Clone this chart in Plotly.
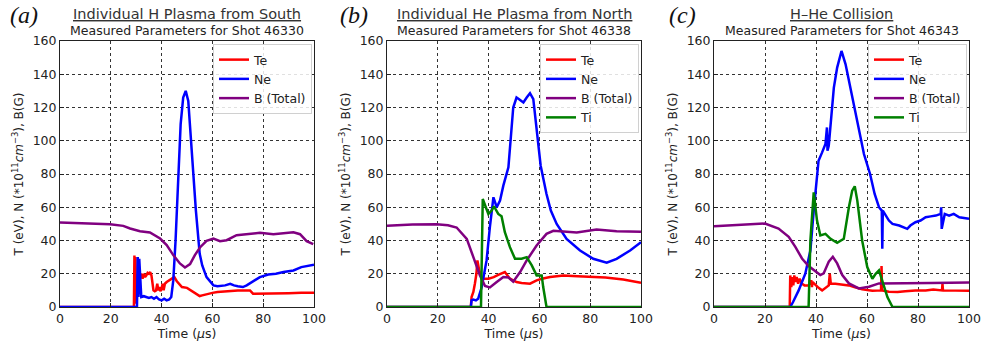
import plotly.graph_objects as go

# ---------------- Panel (a): Individual H plasma, shot 46330 ----------------
a_te_t = [0, 29.1, 29.3, 29.5, 29.7, 29.9, 30.2, 30.6, 31, 31.5, 32, 32.5, 33, 33.5, 34, 34.5, 35, 35.5,
          36, 36.4, 36.8, 37.3, 37.8, 38.3, 38.7, 39.1, 39.5, 40, 40.4, 40.8, 41.3, 42, 43, 44, 45,
          46, 47, 48, 50, 52.5, 54, 55, 56, 57.7, 60, 62, 65, 68, 70, 72, 74.8, 76, 78, 80, 85, 90,
          95, 100]
a_te_v = [0, 0, 31, 2, 30, 5, 20, 18, 21, 19, 20, 17, 20, 18, 19, 20.5, 20, 21,
          19, 12, 10, 9.5, 10, 14, 10, 12, 9.5, 11, 14, 10, 14, 15, 16, 17, 18,
          15.5, 13.5, 12, 11.5, 9, 8, 6.6, 7, 7.8, 8.5, 9, 9.5, 10, 10, 10, 10, 8, 8, 8, 8.2, 8.3,
          8.5, 8.6]
a_ne_t = [0, 30.3, 30.6, 30.9, 31.2, 32, 33, 34, 35, 36, 37, 38, 39, 40, 41, 42, 43, 43.8, 44.6,
          45.5, 46.5, 47.5, 48.5, 49.5, 50.5, 51.5, 52.5, 53.5, 55, 56, 57.7, 60.4, 62, 65, 67, 68.5,
          70, 72, 73.5, 75, 78.7, 82, 85, 88, 91.9, 95, 100]
a_ne_v = [0, 0, 30, 6, 29, 6, 6.5, 6, 5.5, 6, 5, 6, 4.5, 4, 5, 4, 4.5, 6, 16,
          40, 80, 110, 126, 130, 124, 102, 82, 58, 32, 25, 18, 13, 12.5, 13, 14, 13,
          12.5, 12, 13, 14.5, 18, 19.5, 20, 21, 22, 24, 25.4]
a_b_t = [0, 10, 19.7, 24.9, 27.6, 31.5, 35.4, 39.4, 42, 44.6, 47.2, 49.2, 51.2, 53.1, 55.1, 57.7,
         60.4, 63, 65.6, 69.5, 74.8, 78.7, 84, 87.9, 91.9, 94.5, 97.1, 99.7]
a_b_v = [50.8, 50.4, 49.8, 48.8, 47.2, 45.6, 44.8, 41.2, 37.2, 31.2, 26.2, 23.8, 25.8, 31.2, 35.8, 39.8,
         41.2, 39.6, 40.2, 43.2, 44.2, 44.6, 43.8, 44.2, 45, 43.8, 39.6, 37.8]

# ---------------- Panel (b): Individual He plasma, shot 46338 ----------------
b_te_t = [0, 33.0, 33.3, 34, 34.6, 35.2, 35.6, 36.3, 37.3, 38, 40, 42, 44, 46.4, 48.4, 51, 53,
          56.3, 58.9, 61, 64.2, 69.4, 75, 79.9, 86, 93, 96, 100]
b_te_v = [0, 0, 6, 9, 14, 20, 28, 22, 18, 17, 17, 18, 19.5, 21, 17, 15, 14.5,
          14, 16, 17, 18, 19, 18.5, 18, 17.8, 16.5, 15.5, 14.6]
b_ne_t = [0, 33.0, 33.3, 34, 35, 35.9, 37.3, 39.2, 40.5, 41.9, 43.2, 44.5, 45.8, 47.1, 47.8, 49.7,
          51, 52, 53.7, 55, 56.3, 57.6, 58.9, 60.5, 62.8, 64.5, 66.8, 70.7, 76, 81.2, 86.5, 90.4,
          95.7, 100]
b_ne_v = [0, 0, 4, 4.5, 4, 5, 12, 28, 48, 66, 60, 64, 73, 80, 84, 120,
          126, 125, 123, 126, 128.6, 125, 108, 85, 68, 58, 50, 41, 34, 29, 26.6, 29,
          34, 39]
b_b_t = [0, 10, 19.5, 24, 27.4, 31.4, 34, 36.6, 38.6, 40.5, 43.2, 45.8, 47.8, 49.7, 52.4, 55,
         58.9, 62.8, 65.5, 70.7, 74.7, 82.5, 90.4, 100]
b_b_v = [48.8, 49.6, 49.8, 49.2, 47.8, 41, 30, 19, 12.6, 11.8, 15, 18, 17.8, 15.2, 21, 28,
         37, 44, 45.8, 45, 44.8, 46.6, 45.6, 45.2]
b_ti_t = [0, 37.0, 37.7, 38.6, 39.9, 41.2, 42.1, 43.8, 45.1, 46.4, 48.4, 50.4, 53, 55, 57, 58.9,
          60.9, 61.5, 62.8, 100]
b_ti_v = [0, 0, 65, 61, 56, 58, 60.6, 56, 54.6, 45, 36, 29, 29, 30, 25, 19,
          19, 12, 0, 0]

# ---------------- Panel (c): H-He collision, shot 46343 ----------------
c_te_t = [0, 29.7, 29.9, 30.3, 30.7, 31.1, 31.5, 31.9, 32.4, 33, 33.6, 34.5, 35.5, 37.1, 38.2, 38.4,
          38.7, 39.8, 41, 42.4, 44, 45.0, 45.4, 45.8, 47.6, 50, 52.9, 55, 58.1, 62.1, 65.5, 65.7,
          65.9, 68.6, 72, 75, 79, 83, 86, 89.4, 89.6, 89.8, 93, 96, 100]
c_te_v = [0, 0, 19, 12, 18, 13, 19, 15, 18, 14, 17, 14, 13, 13, 16, 12,
          15, 13, 11.5, 10, 12, 13, 20, 14, 14, 13.5, 13, 12, 10.6, 9.8, 10, 24.6,
          10, 9.2, 9, 9.5, 10, 10, 10.5, 10, 14, 10, 10, 10.2, 9.8]
c_ne_t = [0, 29.9, 31, 33.2, 35.8, 37.8, 39.1, 40.4, 41, 42.4, 43.7, 44.3, 44.5, 45.0, 45.7, 47,
          48.3, 50, 51.6, 53.5, 56.2, 58.8, 61.2, 63, 64.7, 65.8, 66.0, 66.2, 68.6, 70, 72.6, 74,
          75.8, 77, 79, 81, 83, 85, 87, 88.9, 89.1, 89.3, 90.5, 92.2, 94, 96.2, 100]
c_ne_v = [0, 0, 3, 10, 20, 34, 58, 80, 88, 93, 98, 108, 94, 97, 110, 132,
          144, 154, 146, 132, 112, 92, 80, 68, 60, 58, 35, 58, 52, 50, 49, 48,
          47, 49, 51, 52, 54, 54.5, 55, 56, 60, 47, 56, 55, 56, 54, 53]
c_b_t = [0, 10, 20, 25.3, 29.3, 31.9, 34.5, 37.1, 39.8, 41.7, 43, 45, 46.6, 48.3, 50.3, 52.9,
         56.8, 60.8, 64.7, 73.9, 85, 100]
c_b_v = [48.6, 49.6, 50.2, 47.2, 42.2, 36.2, 29.2, 24.6, 21.2, 19.2, 20.2, 27.2, 30.2, 26.2, 19.2, 14.2,
         11.2, 12.2, 14.2, 14.2, 14.5, 14.8]
c_ti_t = [0, 37.1, 37.8, 39.1, 40.4, 41.7, 43.7, 45.7, 48.3, 50.9, 52.9, 54.2, 55.2, 56.2, 58.1,
          60.1, 62.1, 63.4, 64.7, 66, 68, 70, 100]
c_ti_v = [0, 0, 40, 69, 52, 43, 44, 41, 38.6, 41, 60, 70, 72.6, 64, 40,
          24, 17, 20, 22, 16, 6, 0, 0]

main_titles = ["Individual H Plasma from South", "Individual He Plasma from North", "H\u2013He Collision"]
sub_titles = ["Measured Parameters for Shot 46330", "Measured Parameters for Shot 46338",
              "Measured Parameters for Shot 46343"]
panel_tags = ["(a)", "(b)", "(c)"]
x_ticks = [0, 20, 40, 60, 80, 100]
y_ticks = [0, 20, 40, 60, 80, 100, 120, 140, 160]

colors = {"Te": "#ff0000", "Ne": "#0000ff", "B (Total)": "#800080", "Ti": "#008000"}

panels = [
    [("Te", a_te_t, a_te_v), ("Ne", a_ne_t, a_ne_v), ("B (Total)", a_b_t, a_b_v)],
    [("Te", b_te_t, b_te_v), ("Ne", b_ne_t, b_ne_v), ("B (Total)", b_b_t, b_b_v), ("Ti", b_ti_t, b_ti_v)],
    [("Te", c_te_t, c_te_v), ("Ne", c_ne_t, c_ne_v), ("B (Total)", c_b_t, c_b_v), ("Ti", c_ti_t, c_ti_v)],
]

W, H = 985, 344
x_px = [(60, 314), (387, 641), (714, 969)]
y_top, y_bot = 41, 307


def px_x(p):
    return p / W


def px_y(p):
    return 1 - p / H


font = "DejaVu Sans"
txt = "#222222"

fig = go.Figure()
layout = dict(
    width=W, height=H, margin=dict(l=0, r=0, t=0, b=0, autoexpand=False),
    paper_bgcolor="white", plot_bgcolor="white",
    font=dict(family=font, size=12, color=txt),
    showlegend=True,
)
annotations = []
for i, series in enumerate(panels):
    sfx = "" if i == 0 else str(i + 1)
    legname = "legend" if i == 0 else f"legend{i + 1}"
    for name, t, v in series:
        fig.add_trace(go.Scatter(
            x=t, y=v, mode="lines", name=name,
            line=dict(color=colors[name], width=2.5),
            xaxis="x" + sfx, yaxis="y" + sfx, legend=legname,
        ))
    x0, x1 = px_x(x_px[i][0]), px_x(x_px[i][1])
    axis_common = dict(
        showline=True, linecolor="#222", linewidth=1, mirror=True,
        showgrid=True, gridcolor="#333", gridwidth=1, griddash="dot",
        ticks="inside", ticklen=4, tickcolor="#222", zeroline=False,
        tickfont=dict(family=font, size=12.5, color=txt), automargin=False,
    )
    layout["xaxis" + sfx] = dict(
        axis_common, domain=[x0, x1], range=[0, 100], tickvals=x_ticks,
        anchor="y" + sfx,
        title=dict(text="Time (<i>\u03bc</i>s)", font=dict(family=font, size=12.5, color=txt), standoff=2),
    )
    layout["yaxis" + sfx] = dict(
        axis_common, domain=[px_y(y_bot), px_y(y_top)], range=[0, 160], tickvals=y_ticks,
        anchor="x" + sfx,
        title=dict(text="T (eV), N (*10<sup>11</sup><i>cm</i><sup>\u22123</sup>), B(G)",
                   font=dict(family=font, size=12, color=txt), standoff=6),
    )
    layout[legname] = dict(
        x=x1 - 2 / W, y=px_y(44), xanchor="right", yanchor="top",
        bgcolor="rgba(255,255,255,0.85)", bordercolor="#d0d0d0", borderwidth=1,
        font=dict(family=font, size=12.5, color=txt), tracegroupgap=0,
        itemwidth=30,
    )
    xc = (x0 + x1) / 2
    annotations.append(dict(text=f"<u>{main_titles[i]}</u>", x=xc, y=px_y(14), xref="paper", yref="paper",
                            showarrow=False, xanchor="center", yanchor="middle",
                            font=dict(family=font, size=14.5, color="#333")))
    annotations.append(dict(text=sub_titles[i], x=xc, y=px_y(31), xref="paper", yref="paper",
                            showarrow=False, xanchor="center", yanchor="middle",
                            font=dict(family=font, size=12.5, color=txt)))
    tag_x = [8, 338, 667][i]
    annotations.append(dict(text=f"<i>{panel_tags[i]}</i>", x=px_x(tag_x), y=px_y(15), xref="paper",
                            yref="paper", showarrow=False, xanchor="left", yanchor="middle",
                            font=dict(family="Liberation Serif", size=24, color="#111")))
layout["annotations"] = annotations
fig.update_layout(**layout)
# remove the browser's default 8px body margin so the figure fills the 985x344 window exactly
fig.write_html("out.html", config={"displayModeBar": False},
               post_script="document.body.style.margin='0';document.body.style.overflow='hidden';")
